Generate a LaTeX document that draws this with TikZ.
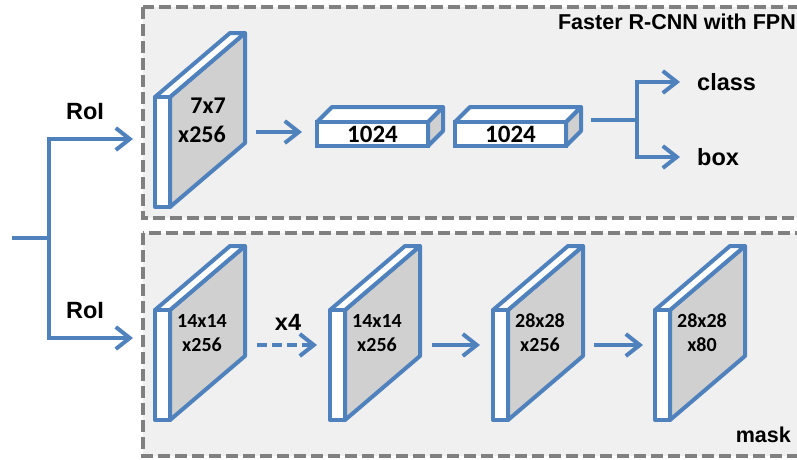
\documentclass[tikz,border=0pt]{standalone}
\usepackage{fontspec}
\setmainfont{Liberation Sans}
\newfontfamily\calibfont{Carlito}
\usepackage[]{tikz}
\usetikzlibrary{arrows.meta}
\definecolor{netblue}{HTML}{4F81BD}
\definecolor{panelgray}{HTML}{F0F0F0}
\definecolor{dashgray}{HTML}{808080}
\definecolor{facegray}{HTML}{D0D0D0}

\tikzset{
  panel/.style={draw=dashgray,fill=panelgray,line width=3.5pt,dash pattern=on 12pt off 5pt},
  slab/.style={draw=netblue,line width=4pt,line join=round},
  conn/.style={draw=netblue,line width=4pt},
  arr/.style={conn,-{Straight Barb[length=14pt,width=22pt]}},
  lbl/.style={font=\bfseries\fontsize{23.5}{27}\selectfont,inner sep=0pt},
  title/.style={font=\bfseries\fontsize{21.5}{24}\selectfont,inner sep=0pt},
  fmtop/.style={font=\calibfont\bfseries\fontsize{24}{29}\selectfont,align=right,inner sep=0pt},
  fmbot/.style={font=\calibfont\bfseries\fontsize{20}{24}\selectfont,align=center,inner sep=0pt},
  fcnode/.style={draw=netblue,line width=4pt,fill=white,minimum width=111pt,minimum height=24pt,
    inner sep=0pt,font=\calibfont\bfseries\fontsize{25}{25}\selectfont}
}

% feature map: name, x, y (front bottom left), text, label style
\newcommand{\featmap}[5]{%
  \begin{scope}[shift={(#2,#3)}]
    \draw[slab,fill=facegray] (15,0) -- (15,-110) -- (90,-174) -- (90,-64) -- cycle;
    \draw[slab,fill=white] (0,-110) -- (75,-174) -- (90,-174) -- (15,-110) -- cycle;
    \draw[slab,fill=white] (0,0) rectangle (15,-110);
    \coordinate (#1-in) at (0,-75);
    \coordinate (#1-out) at (90,-75);
    \node[#5] (#1-lbl) at (47,-87) {#4};
  \end{scope}}

% fc layer: name, x, y (front top left)
\newcommand{\fclayer}[3]{%
  \begin{scope}[shift={(#2,#3)}]
    \draw[slab,fill=facegray] (111,0) -- (126,-15) -- (126,9) -- (111,24) -- cycle;
    \draw[slab,fill=white] (0,0) -- (15,-15) -- (126,-15) -- (111,0) -- cycle;
    \node[fcnode] (#1) at (55.5,12) {1024};
    \coordinate (#1-in) at (0,10);
    \coordinate (#1-out) at (126,-2);
  \end{scope}}

\begin{document}
\begin{tikzpicture}[x=1pt,y=-1pt]
\useasboundingbox (0,0) rectangle (797,459);
\clip (0,0) rectangle (797,459);
\draw[panel] (143,7) rectangle (830,218);
\draw[panel] (143,233) rectangle (830,456);
\node[title,anchor=east] (fpn) at (796,22) {Faster R-CNN with FPN};
\node[title,anchor=east] (mask) at (791,435) {mask};

\coordinate (in) at (12,238);
\coordinate (split) at (49,238);
\coordinate (roibox) at (133,139);
\coordinate (roimask) at (133,338);
\draw[conn] (in) -- (split);
\draw[arr] (split) |- (roibox);
\draw[arr] (split) |- (roimask);
\node[lbl] (roi1) at (85,112) {RoI};
\node[lbl] (roi2) at (85,311) {RoI};

\featmap{box7}{155}{207}{7x7\\x256}{fmtop}
\fclayer{fc1}{317}{122}
\fclayer{fc2}{455}{122}
\draw[arr,shorten <=11pt,shorten >=15pt] (box7-out) -- (fc1-in);
\coordinate (headsplit) at (637,120);
\draw[conn,shorten <=10pt] (fc2-out) -- (headsplit);
\node[lbl,anchor=west] (cls) at (697,82) {class};
\node[lbl,anchor=west] (bbox) at (697,157) {box};
\draw[arr,shorten >=17pt] (headsplit) |- (cls.west);
\draw[arr,shorten >=17pt] (headsplit) |- (bbox.west);

\featmap{m1}{155}{420}{14x14\\x256}{fmbot}
\featmap{m2}{330}{420}{14x14\\x256}{fmbot}
\featmap{m3}{493}{420}{28x28\\x256}{fmbot}
\featmap{m4}{655}{420}{28x28\\x80}{fmbot}
\draw[arr,dash pattern=on 10pt off 5pt,shorten <=12pt,shorten >=13pt] (m1-out) -- (m2-in);
\node[lbl] (rep) at (288,322) {x4};
\draw[arr,shorten <=12pt,shorten >=13pt] (m2-out) -- (m3-in);
\draw[arr,shorten <=11pt,shorten >=12pt] (m3-out) -- (m4-in);
\end{tikzpicture}
\end{document}
